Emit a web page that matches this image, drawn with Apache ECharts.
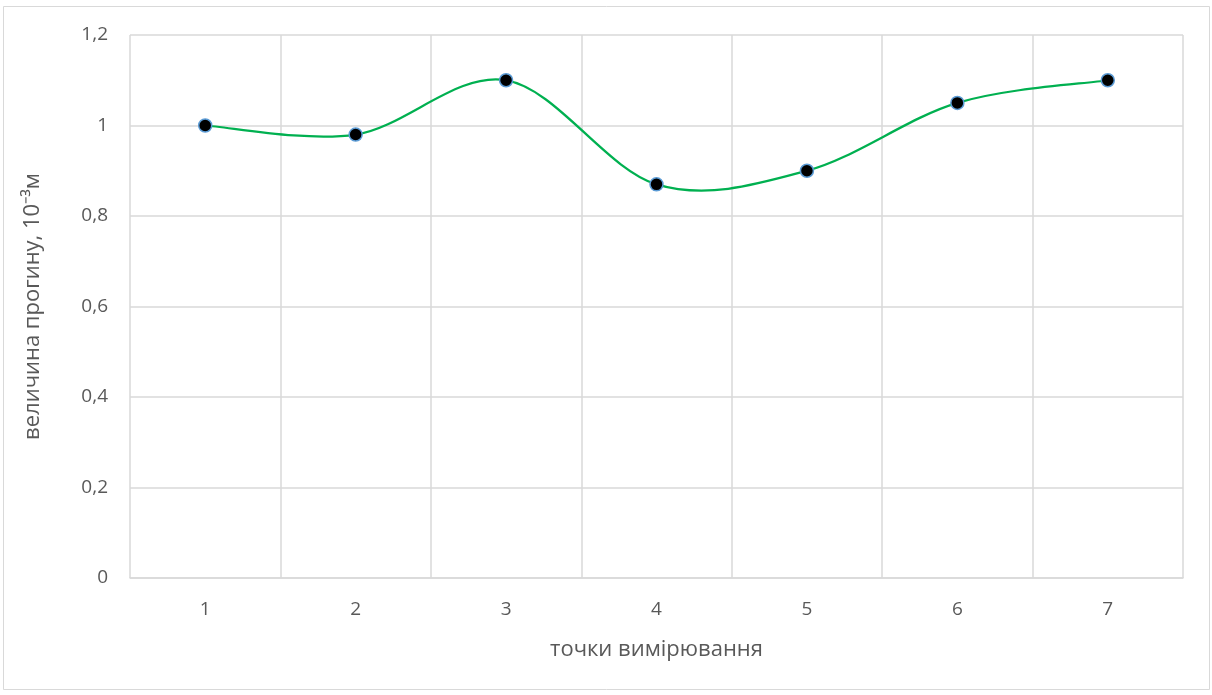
<!DOCTYPE html>
<html><head><meta charset="utf-8">
<script src="https://cdn.jsdelivr.net/npm/echarts@6/dist/echarts.min.js"></script>
<style>html,body{margin:0;padding:0;background:#fff}#c{width:1212px;height:695px;}</style>
</head><body><div id="c"></div>
<script>
const categories = ['1','2','3','4','5','6','7'];
const values = [1.0, 0.98, 1.1, 0.87, 0.9, 1.05, 1.1];
const yTicks = {min: 0, max: 1.2, interval: 0.2};
const xName = 'точки вимірювання';
const yName = 'величина прогину, 10⁻³м';

const chart = echarts.init(document.getElementById('c'));
const font = 'Open Sans';
const n = values.length;

// Excel-style smoothed segment (Catmull-Rom through data points, via axis coords)
function renderSeg(params, api) {
  const i = params.dataIndex;
  if (i >= n - 1) return null;
  const c = k => api.coord([Math.max(0, Math.min(n - 1, k)), values[Math.max(0, Math.min(n - 1, k))]]);
  const p0 = c(i - 1), p1 = c(i), p2 = c(i + 1), p3 = c(i + 2);
  return {
    type: 'bezierCurve',
    shape: {
      x1: p1[0], y1: p1[1], x2: p2[0], y2: p2[1],
      cpx1: p1[0] + (p2[0] - p0[0]) / 6, cpy1: p1[1] + (p2[1] - p0[1]) / 6,
      cpx2: p2[0] - (p3[0] - p1[0]) / 6, cpy2: p2[1] - (p3[1] - p1[1]) / 6
    },
    style: {stroke: '#00B050', lineWidth: 2.25, fill: null},
    silent: true
  };
}

chart.setOption({
  animation: false,
  backgroundColor: '#fff',
  graphic: [{type:'rect', shape:{x:3.5,y:6.5,width:1206,height:683}, style:{fill:'none', stroke:'#d9d9d9', lineWidth:1}, silent:true}],
  grid: {left: 130, right: 29, top: 35, bottom: 117},
  xAxis: {
    type: 'category', data: categories, boundaryGap: true,
    name: xName, nameLocation: 'middle', nameGap: 61,
    nameTextStyle: {fontFamily: font, fontSize: 22, color: '#595959'},
    axisLine: {lineStyle: {color: '#d9d9d9', width: 1.5}},
    axisTick: {show: false},
    axisLabel: {fontFamily: font, fontSize: 19, color: '#595959', margin: 22},
    splitLine: {show: true, lineStyle: {color: '#d9d9d9', width: 1.5}}
  },
  yAxis: {
    type: 'value', min: yTicks.min, max: yTicks.max, interval: yTicks.interval,
    name: yName, nameLocation: 'middle', nameGap: 86,
    nameTextStyle: {fontFamily: font, fontSize: 22, color: '#595959'},
    axisLine: {show: false}, axisTick: {show: false},
    axisLabel: {fontFamily: font, fontSize: 19, color: '#595959', margin: 22,
      formatter: v => String(+v.toFixed(1)).replace('.', ',')},
    splitLine: {lineStyle: {color: '#d9d9d9', width: 1.5}}
  },
  series: [{
    type: 'custom', renderItem: renderSeg,
    data: values.map((v, i) => [i, v]), encode: {x: 0, y: 1}, z: 2
  }, {
    type: 'line', data: values, z: 3,
    lineStyle: {width: 0, opacity: 0},
    symbol: 'circle', symbolSize: 13,
    itemStyle: {color: '#000', borderColor: '#5B9BD5', borderWidth: 1.5}
  }]
});
</script></body></html>
